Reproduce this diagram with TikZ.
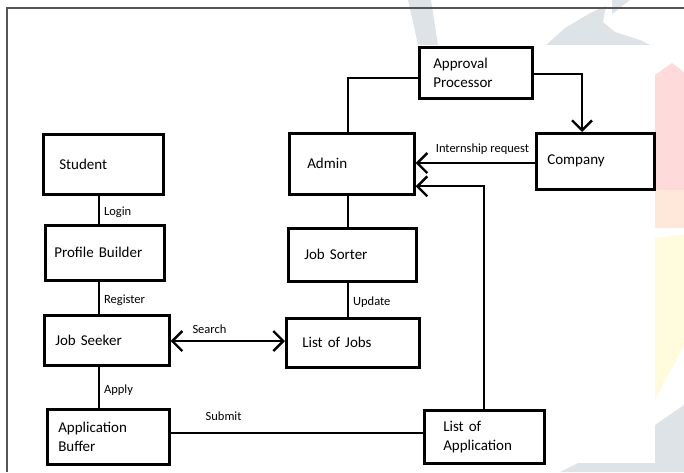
\documentclass[tikz,border=0pt]{standalone}
\usepackage{fontspec}
\setmainfont{Carlito}
\usetikzlibrary{arrows.meta, positioning}

\definecolor{wmgray}{HTML}{DDE3E7}
\definecolor{wmpink}{HTML}{FFDADA}
\definecolor{wmpeach}{HTML}{FFE8DA}
\definecolor{wmyellow}{HTML}{FFFBDC}
\definecolor{framegray}{HTML}{555555}

\newcommand{\boxfont}{\fontsize{15}{19}\selectfont}
\newcommand{\labfont}{\fontsize{12.5}{15}\selectfont}

\begin{document}
\begin{tikzpicture}[
            x = 1pt, y = -1pt, % pixel units, y grows downwards
            > = {Straight Barb[length=10pt, width=20pt, line width=2.4pt]}, % open arrow head
            line width = 2.2pt, % connector lines
            txt/.style = {font=\labfont, inner sep=2pt, text height=9pt, text depth=3pt},
            side/.style = {txt, right=2pt, yshift=-3pt}
        ]

        \tikzstyle{block}=[
            draw = black,
            line width = 2.6pt,
            fill = white,
            anchor = north west,
            align = left,
            inner ysep = 0pt,
            font = \boxfont
        ]

        \useasboundingbox (0,0) rectangle (684,472);

        % watermark behind the sheet
        \fill[wmgray] (408,0) -- (431,0) -- (438,45) -- (418,45) -- cycle;
        \fill[wmgray] (546,45) -- (565,28) -- (592,12) -- (606,6) -- (603,22) -- (615,32) -- (640,40) -- (650,45) -- cycle;
        \fill[wmgray] (612,0) -- (630,0) -- (612,14) -- cycle;
        \fill[wmpink] (655,75) -- (672,63) -- (684,72) -- (684,190) -- (655,190) -- cycle;
        \fill[wmpeach] (655,190) rectangle (684,228);
        \fill[wmyellow] (655,238) -- (684,234) -- (684,345) -- (655,400) -- cycle;
        \fill[wmgray] (560,472) -- (578,463) -- (655,463) -- (655,425) -- (684,405) -- (684,472) -- cycle;
        \fill[white] (9,45) rectangle (655,463);

        % frame of the page
        \draw[framegray, line width=1.6pt] (7,472) -- (7,8) -- (684,8);

        \node[block, minimum height=60pt, text width=88pt, inner xsep=16pt] (student) at (42,133) {Student};
        \node[block, minimum height=55pt, text width=101pt, inner xsep=9pt] (profile) at (44,224) {Profile Builder};
        \node[block, minimum height=50pt, text width=103pt, inner xsep=11pt] (seeker) at (43,314) {Job Seeker};
        \node[block, minimum height=55pt, text width=100pt, inner xsep=11pt] (buffer) at (46,408) {Application\\Buffer};

        \node[block, minimum height=61pt, text width=89pt, inner xsep=18pt] (admin) at (288,132) {Admin};
        \node[block, minimum height=53pt, text width=96pt, inner xsep=16pt] (sorter) at (287,227) {Job Sorter};
        \node[block, minimum height=49pt, text width=101pt, inner xsep=16pt] (jobs) at (285,317) {List of Jobs};

        \node[block, minimum height=51pt, text width=85pt, inner xsep=14pt] (approval) at (418,46) {Approval\\Processor};
        \node[block, minimum height=56pt, text width=96pt, inner xsep=11pt] (company) at (535,132) {Company};
        \node[block, minimum height=53pt, text width=82pt, inner xsep=19pt] (applist) at (423,409) {List of\\Application};

        \coordinate (lx) at (99,0); % left column line
        \coordinate (mx) at (348,0); % middle column line
        \coordinate (cx) at (582,0); % down to company
        \coordinate (sy) at (0,341); % search line
        \coordinate (iy) at (0,163); % internship request line
        \coordinate (by) at (0,433); % submit line

        \draw (student.south -| lx) -- node[side] {Login} (profile.north -| lx);
        \draw (profile.south -| lx) -- node[side] {Register} (seeker.north -| lx);
        \draw (seeker.south -| lx) -- node[side] {Apply} (buffer.north -| lx);

        \draw[<->] (seeker.east |- sy) -- node[txt, above=1pt, pos=0.34] {Search} (jobs.west |- sy);
        \draw (buffer.east |- by) -- node[txt, above=6pt, pos=0.21] {Submit} (applist.west |- by);

        \draw (admin.south -| mx) -- (sorter.north -| mx);
        \draw (sorter.south -| mx) -- node[side] {Update} (jobs.north -| mx);

        \draw ([yshift=-5.5pt]approval.west) -| (admin.north -| mx);
        \draw[->] ([yshift=-1.5pt]approval.east) -| (company.north -| cx);
        \draw[->] (company.west |- iy) -- node[txt, above=4pt, pos=0.44] {Internship request} (admin.east |- iy);
        \draw[->] (applist.north) |- ([yshift=-22.5pt]admin.east);

    \end{tikzpicture}
\end{document}
